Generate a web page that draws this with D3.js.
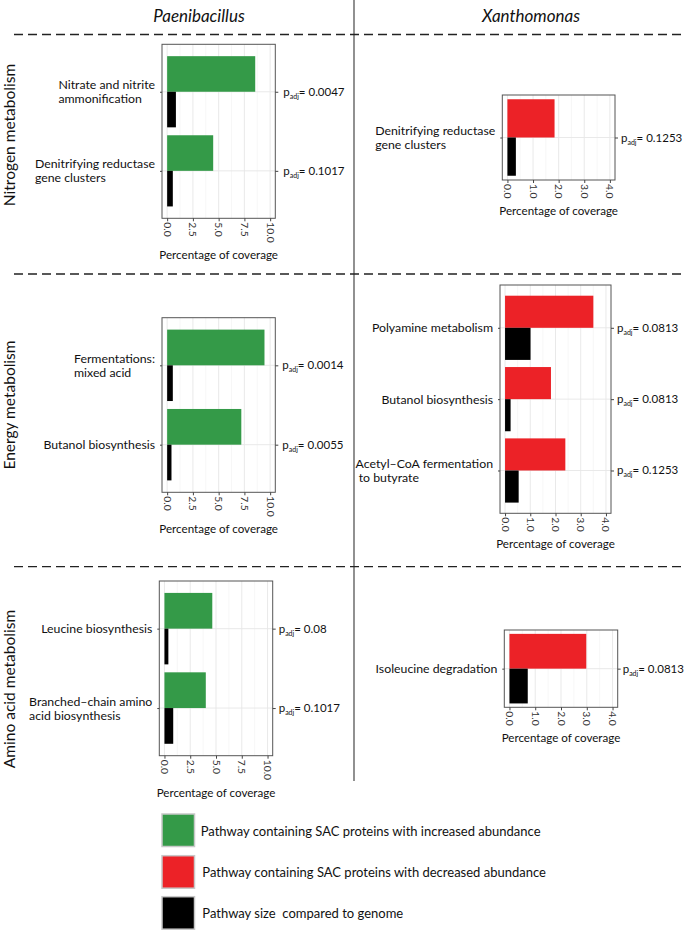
<!DOCTYPE html>
<html>
<head>
<meta charset="utf-8">
<script src="https://cdn.jsdelivr.net/npm/d3@7"></script>
<style>
  html, body { margin: 0; padding: 0; background: #fff; }
  svg { display: block; font-family: 'Lato', sans-serif; }
  .lbl { white-space: pre; }
</style>
</head>
<body>
<svg id="chart" width="685" height="932"></svg>
<script>
'use strict';

// Column / row headers
const species = ['Paenibacillus', 'Xanthomonas'];
const groups = ['Nitrogen metabolism', 'Energy metabolism', 'Amino acid metabolism'];

// Axis breaks
const paeniTicks = [0, 2.5, 5, 7.5, 10];
const xanthoTicks = [0, 1, 2, 3, 4];

// Paenibacillus - nitrogen
const paeniNitrogenPathways = ['Nitrate and nitrite\nammonification', 'Denitrifying reductase\ngene clusters'];
const paeniNitrogenSac = [8.55, 4.47];
const paeniNitrogenGenome = [0.85, 0.55];
const paeniNitrogenPadj = ['0.0047', '0.1017'];

// Xanthomonas - nitrogen
const xanthoNitrogenPathways = ['Denitrifying reductase\ngene clusters'];
const xanthoNitrogenSac = [1.84];
const xanthoNitrogenGenome = [0.33];
const xanthoNitrogenPadj = ['0.1253'];

// Paenibacillus - energy
const paeniEnergyPathways = ['Fermentations:\nmixed acid', 'Butanol biosynthesis'];
const paeniEnergySac = [9.45, 7.2];
const paeniEnergyGenome = [0.55, 0.42];
const paeniEnergyPadj = ['0.0014', '0.0055'];

// Xanthomonas - energy
const xanthoEnergyPathways = ['Polyamine metabolism', 'Butanol biosynthesis', 'Acetyl\u2013CoA fermentation\n to butyrate'];
const xanthoEnergySac = [3.5, 1.82, 2.39];
const xanthoEnergyGenome = [1.01, 0.22, 0.54];
const xanthoEnergyPadj = ['0.0813', '0.0813', '0.1253'];

// Paenibacillus - amino acid
const paeniAminoPathways = ['Leucine biosynthesis', 'Branched\u2013chain amino\nacid biosynthesis'];
const paeniAminoSac = [4.64, 4.01];
const paeniAminoGenome = [0.38, 0.85];
const paeniAminoPadj = ['0.08', '0.1017'];

// Xanthomonas - amino acid
const xanthoAminoPathways = ['Isoleucine degradation'];
const xanthoAminoSac = [2.98];
const xanthoAminoGenome = [0.71];
const xanthoAminoPadj = ['0.0813'];

// Legend
const legendLabels = [
  'Pathway containing SAC proteins with increased abundance',
  'Pathway containing SAC proteins with decreased abundance',
  'Pathway size  compared to genome'
];
const legendColors = ['#349a48', '#ec2227', '#000000'];

const GREEN = legendColors[0], RED = legendColors[1], BLACK = legendColors[2];
const INK = '#111';

const svg = d3.select('#chart');

// Panel layout (box = [left, top, right, bottom])
const panels = [
  {path: paeniNitrogenPathways, sac: paeniNitrogenSac, gen: paeniNitrogenGenome, p: paeniNitrogenPadj,
   ticks: paeniTicks, color: GREEN, box: [162, 44.3, 275.3, 218.3], pad: 0.6, pgap: 8},
  {path: xanthoNitrogenPathways, sac: xanthoNitrogenSac, gen: xanthoNitrogenGenome, p: xanthoNitrogenPadj,
   ticks: xanthoTicks, color: RED, box: [502.3, 95, 615, 180], pad: 0.5, pgap: 6},
  {path: paeniEnergyPathways, sac: paeniEnergySac, gen: paeniEnergyGenome, p: paeniEnergyPadj,
   ticks: paeniTicks, color: GREEN, box: [162, 317.7, 275.3, 492.3], pad: 0.6, pgap: 7},
  {path: xanthoEnergyPathways, sac: xanthoEnergySac, gen: xanthoEnergyGenome, p: xanthoEnergyPadj,
   ticks: xanthoTicks, color: RED, box: [500, 285, 611, 513.3], pad: 0.6, pgap: 6},
  {path: paeniAminoPathways, sac: paeniAminoSac, gen: paeniAminoGenome, p: paeniAminoPadj,
   ticks: paeniTicks, color: GREEN, box: [159.3, 581, 272.7, 755.7], pad: 0.6, pgap: 6},
  {path: xanthoAminoPathways, sac: xanthoAminoSac, gen: xanthoAminoGenome, p: xanthoAminoPadj,
   ticks: xanthoTicks, color: RED, box: [504.3, 630, 617.7, 707.3], pad: 0.5, pgap: 5}
];

// Separators
svg.append('line')
  .attr('x1', 354).attr('x2', 354).attr('y1', 0).attr('y2', 781)
  .attr('stroke', '#555').attr('stroke-width', 1.3);

[34.5, 274, 566.7].forEach(yy => {
  svg.append('line')
    .attr('x1', 14).attr('x2', 685).attr('y1', yy).attr('y2', yy)
    .attr('stroke', '#222').attr('stroke-width', 1.3)
    .attr('stroke-dasharray', '9,5');
});

// Headers
svg.selectAll('.species').data(species).enter().append('text')
  .attr('class', 'species')
  .attr('x', (d, i) => [199, 531][i]).attr('y', 15)
  .attr('text-anchor', 'middle').attr('dominant-baseline', 'central')
  .attr('font-style', 'italic').attr('font-size', 17).attr('fill', INK)
  .text(d => d);

svg.selectAll('.group').data(groups).enter().append('text')
  .attr('class', 'group')
  .attr('transform', (d, i) => `translate(9,${[135, 405, 689][i]}) rotate(-90)`)
  .attr('text-anchor', 'middle').attr('dominant-baseline', 'central')
  .attr('font-size', 15.5).attr('fill', INK)
  .text(d => d);

// Panels
panels.forEach(pn => {
  const [x0, y0, x1, y1] = pn.box;
  const max = d3.max(pn.ticks);
  const x = d3.scaleLinear().domain([-0.05 * max, 1.05 * max]).range([x0, x1]);
  const y = d3.scalePoint().domain(pn.path).range([y0, y1]).padding(pn.pad);
  const bh = y.step() * 0.45;
  const g = svg.append('g');

  // minor + major grid
  const minor = d3.pairs(pn.ticks).map(p => (p[0] + p[1]) / 2);
  g.selectAll('.minor').data(minor).enter().append('line')
    .attr('x1', d => x(d)).attr('x2', d => x(d)).attr('y1', y0).attr('y2', y1)
    .attr('stroke', '#f2f2f2').attr('stroke-width', 0.6);
  g.selectAll('.major').data(pn.ticks).enter().append('line')
    .attr('x1', d => x(d)).attr('x2', d => x(d)).attr('y1', y0).attr('y2', y1)
    .attr('stroke', '#e6e6e6').attr('stroke-width', 0.9);
  g.selectAll('.hgrid').data(pn.path).enter().append('line')
    .attr('x1', x0).attr('x2', x1).attr('y1', d => y(d)).attr('y2', d => y(d))
    .attr('stroke', '#e6e6e6').attr('stroke-width', 0.9);

  // bars
  g.selectAll('.sac').data(pn.path).enter().append('rect')
    .attr('x', x(0)).attr('y', d => y(d) - bh)
    .attr('width', (d, i) => x(pn.sac[i]) - x(0)).attr('height', bh)
    .attr('fill', pn.color);
  g.selectAll('.gen').data(pn.path).enter().append('rect')
    .attr('x', x(0)).attr('y', d => y(d))
    .attr('width', (d, i) => x(pn.gen[i]) - x(0)).attr('height', bh)
    .attr('fill', BLACK);

  // border
  g.append('rect')
    .attr('x', x0).attr('y', y0).attr('width', x1 - x0).attr('height', y1 - y0)
    .attr('fill', 'none').attr('stroke', '#555').attr('stroke-width', 1);

  // bottom axis
  const ax = g.append('g')
    .attr('transform', `translate(0,${y1})`)
    .call(d3.axisBottom(x).tickValues(pn.ticks).tickSize(3).tickPadding(0).tickFormat(d3.format('.1f')));
  ax.select('.domain').remove();
  ax.selectAll('.tick line').attr('stroke', '#444');
  ax.selectAll('.tick text')
    .attr('y', 0).attr('dy', 0)
    .attr('transform', 'translate(0,4) rotate(90)')
    .attr('text-anchor', 'start').attr('dominant-baseline', 'central')
    .attr('font-family', 'Lato').attr('font-size', 10.3).attr('fill', '#333');
  let labLen = 0;
  ax.selectAll('.tick text').each(function () { labLen = Math.max(labLen, this.getComputedTextLength()); });

  g.append('text')
    .attr('x', (x0 + x1) / 2).attr('y', y1 + 4 + labLen + 12)
    .attr('text-anchor', 'middle').attr('dominant-baseline', 'central')
    .attr('font-size', 11.6).attr('fill', INK)
    .text('Percentage of coverage');

  // left axis ticks + labels
  const ay = g.append('g').attr('transform', `translate(${x0},0)`)
    .call(d3.axisLeft(y).tickSize(2).tickFormat(''));
  ay.select('.domain').remove();
  ay.selectAll('.tick line').attr('stroke', '#444');

  pn.path.forEach(name => {
    const lines = name.split('\n');
    const t = g.append('text').attr('class', 'lbl')
      .attr('font-size', 12.3).attr('fill', INK);
    const lh = 14;
    lines.forEach((ln, k) => {
      t.append('tspan')
        .attr('y', y(name) + (k - (lines.length - 1) / 2) * lh)
        .attr('dominant-baseline', 'central')
        .text(ln);
    });
    let w = 0;
    t.selectAll('tspan').each(function () { w = Math.max(w, this.getComputedTextLength()); });
    t.selectAll('tspan').attr('x', x0 - 7 - w);
  });

  // right axis with adjusted p-values
  const ar = g.append('g').attr('transform', `translate(${x1},0)`)
    .call(d3.axisRight(y).tickSize(3).tickFormat(''));
  ar.select('.domain').remove();
  ar.selectAll('.tick line').attr('stroke', '#444');

  pn.path.forEach((name, i) => {
    const t = g.append('text')
      .attr('x', x1 + pn.pgap).attr('y', y(name) + 4)
      .attr('font-size', 11.5).attr('fill', INK);
    t.append('tspan').text('p');
    t.append('tspan').attr('font-size', 7).attr('dy', 3).text('adj');
    t.append('tspan').attr('dy', -3).text('= ' + pn.p[i]);
  });
});

// Legend
const leg = svg.append('g');
const legY = [814, 855.7, 896.7];
leg.selectAll('rect').data(legendLabels).enter().append('rect')
  .attr('x', 162).attr('y', (d, i) => legY[i])
  .attr('width', 32.5).attr('height', 32.5)
  .attr('fill', (d, i) => legendColors[i])
  .attr('stroke', '#c8c8c8').attr('stroke-width', 1.5);
leg.selectAll('text').data(legendLabels).enter().append('text')
  .attr('class', 'lbl')
  .attr('x', (d, i) => [200.7, 202.3, 202.3][i])
  .attr('y', (d, i) => legY[i] + 16.5)
  .attr('dominant-baseline', 'central')
  .attr('font-size', 13).attr('fill', INK)
  .text(d => d);
</script>
</body>
</html>
